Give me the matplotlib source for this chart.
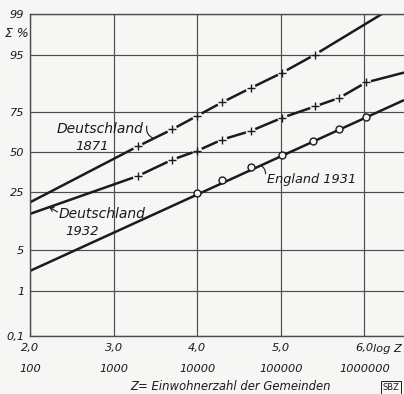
import numpy as np
import matplotlib
matplotlib.use("Agg")
import matplotlib.pyplot as plt
from statistics import NormalDist

# log10 of community size Z at which the size classes are plotted
size_log = [3.29, 3.70, 4.00, 4.30, 4.64, 5.02, 5.41, 5.70, 6.02]

# cumulative share of population (Σ %) living in communities up to size Z
de1871_pct = [54, 65, 73, 80, 86, 91, 95]
de1932_pct = [34.5, 45, 51, 58.5, 64, 72, 78, 82, 88]
en1931_log = [4.00, 4.30, 4.64, 5.02, 5.39, 5.70, 6.02]
en1931_pct = [24.5, 32, 40, 48, 57.5, 65, 72.5]

# ends of the straight lines drawn through each series
de1871_ends_log = [2.0, 6.21]
de1871_ends_pct = [20.0, 99.0]
de1932_ends_log = [2.0, 6.474]
de1932_ends_pct = [15.0, 91.0]
en1931_ends_log = [2.0, 6.474]
en1931_ends_pct = [2.3, 81.0]

logz_ticks = [2, 3, 4, 5, 6]
logz_labels = ["2,0", "3,0", "4,0", "5,0", "6,0"]
pop_labels = ["100", "1000", "10000", "100000", "1000000"]
pct_ticks = [0.1, 1, 5, 25, 50, 75, 95, 99]
pct_labels = ["0,1", "1", "5", "25", "50", "75", "95", "99"]

BG = "#f6f6f4"
INK = "#1b1b1b"
GRID = "#4d4d4d"

plt.rcParams["font.family"] = ["DejaVu Sans"]
plt.rcParams["font.style"] = "italic"

_nd = NormalDist()


def probit(p):
    p = np.clip(np.asarray(p, dtype=float) / 100.0, 1e-9, 1 - 1e-9)
    return np.vectorize(_nd.inv_cdf, otypes=[float])(p)


def probit_inv(z):
    z = np.asarray(z, dtype=float)
    return 100.0 * np.vectorize(_nd.cdf, otypes=[float])(z)


fig = plt.figure(figsize=(4.04, 3.94), dpi=100, facecolor=BG)
ax = fig.add_axes([30 / 404, 58 / 394, 374 / 404, 322 / 394], facecolor=BG)
ax.set_yscale("function", functions=(probit, probit_inv))
ax.set_xlim(2.0, 6.474)
ax.set_ylim(0.1, 99)

ax.set_xticks(logz_ticks, logz_labels)
ax.set_yticks(pct_ticks, pct_labels)
ax.minorticks_off()
ax.tick_params(length=0, labelsize=8.2, colors=INK)
ax.tick_params(axis="x", pad=5)
ax.tick_params(axis="y", pad=4)
ax.grid(True, color=GRID, linewidth=0.85)
ax.set_axisbelow(True)
ax.spines["right"].set_visible(False)
for side in ("left", "bottom", "top"):
    ax.spines[side].set_color(GRID)
    ax.spines[side].set_linewidth(1.0)

sec = ax.secondary_xaxis("bottom")
sec.set_xticks(logz_ticks, pop_labels)
sec.tick_params(length=0, pad=20, labelsize=8.2, colors=INK)
sec.spines["bottom"].set_visible(False)

line_kw = dict(color=INK, linewidth=1.8, solid_capstyle="butt")


def gapped_line(xs, ps, marker_idx, gap_px):
    """Draw a polyline, leaving a small gap around each marked vertex."""
    pts = ax.transData.transform(np.column_stack([xs, ps]))
    inv = ax.transData.inverted()
    for i in range(len(pts) - 1):
        a, b = pts[i].copy(), pts[i + 1].copy()
        u = (b - a) / np.hypot(*(b - a))
        if i in marker_idx:
            a = a + u * gap_px
        if i + 1 in marker_idx:
            b = b - u * gap_px
        seg = inv.transform(np.vstack([a, b]))
        ax.plot(seg[:, 0], seg[:, 1], **line_kw)


for pct, ends_log, ends_pct in ((de1871_pct, de1871_ends_log, de1871_ends_pct),
                                (de1932_pct, de1932_ends_log, de1932_ends_pct)):
    xs = size_log[:len(pct)]
    path_x = [ends_log[0]] + list(xs) + [ends_log[1]]
    path_p = [ends_pct[0]] + list(pct) + [ends_pct[1]]
    gapped_line(path_x, path_p, set(range(1, len(pct) + 1)), 5.0)
    ax.plot(xs, pct, linestyle="none", marker="+", markersize=5.5,
            markeredgewidth=1.0, color=INK, zorder=4)

ax.plot(en1931_ends_log, en1931_ends_pct, **line_kw)
ax.plot(en1931_log, en1931_pct, linestyle="none", marker="o", markersize=5,
        markerfacecolor=BG, markeredgecolor=INK, markeredgewidth=1.0, zorder=4)


def on_line(xs, ps, x):
    return float(probit_inv(np.interp(x, xs, probit(ps))))


# series labels with leader strokes
ax.text(0.187, 0.644, "Deutschland", transform=ax.transAxes, fontsize=10,
        ha="center", va="center", color=INK)
ax.text(0.167, 0.590, "1871", transform=ax.transAxes, fontsize=9.5,
        ha="center", va="center", color=INK)
x1871 = [de1871_ends_log[0]] + size_log[:len(de1871_pct)]
p1871 = [de1871_ends_pct[0]] + de1871_pct
xa = 3.48
ax.annotate("", xy=(xa, on_line(x1871, p1871, xa)), xytext=(-5, 9),
            textcoords="offset points",
            arrowprops=dict(arrowstyle="-", color=INK, lw=0.8,
                            connectionstyle="arc3,rad=0.4", shrinkA=0, shrinkB=0))

ax.text(0.192, 0.380, "Deutschland", transform=ax.transAxes, fontsize=10,
        ha="center", va="center", color=INK)
ax.text(0.139, 0.326, "1932", transform=ax.transAxes, fontsize=9.5,
        ha="center", va="center", color=INK)
x1932 = [de1932_ends_log[0]] + size_log[:len(de1932_pct)]
p1932 = [de1932_ends_pct[0]] + de1932_pct
xb = 2.23
ax.annotate("", xy=(xb, on_line(x1932, p1932, xb)), xytext=(6, -3.5),
            textcoords="offset points",
            arrowprops=dict(arrowstyle="->,head_length=0.25,head_width=0.15",
                            color=INK, lw=0.8, shrinkA=0, shrinkB=0))

ax.text(0.633, 0.4845, "England 1931", transform=ax.transAxes, fontsize=9.3,
        ha="left", va="center", color=INK)
xc = 4.76
ax.annotate("", xy=(xc, on_line(en1931_ends_log, en1931_ends_pct, xc)),
            xytext=(3.5, -6), textcoords="offset points",
            arrowprops=dict(arrowstyle="-", color=INK, lw=0.8,
                            connectionstyle="arc3,rad=0.3", shrinkA=0, shrinkB=0))

# axis captions
ax.text(-0.035, 0.938, "Σ %", transform=ax.transAxes, fontsize=9,
        ha="center", va="center", color=INK)
ax.text(0.918, -0.040, "log Z", transform=ax.transAxes, fontsize=8.2,
        ha="left", va="center", color=INK)
ax.text(0.536, -0.158, "Z= Einwohnerzahl der Gemeinden", transform=ax.transAxes,
        fontsize=8.4, ha="center", va="center", color=INK)
fig.text(0.9678, 0.0165, "SBZ", fontsize=6, ha="center", va="center",
         color=INK, style="normal",
         bbox=dict(boxstyle="square,pad=0.2", facecolor="none",
                   edgecolor=INK, linewidth=0.7))

fig.savefig("out.png", dpi=100, facecolor=BG)
